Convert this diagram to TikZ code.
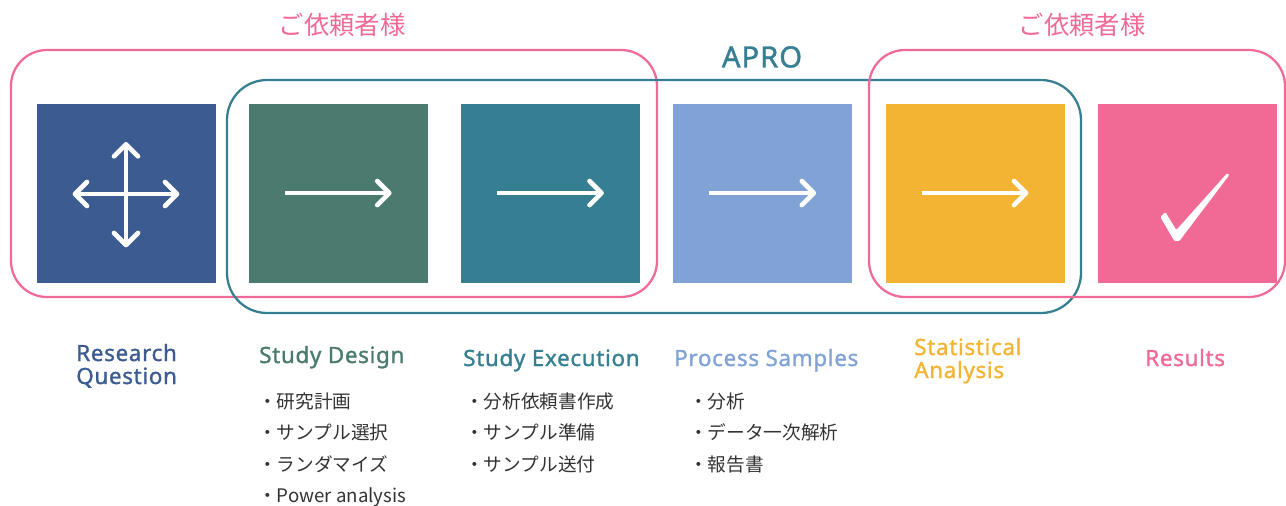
\documentclass[tikz,border=0pt]{standalone}
\usepackage{fontspec}
\setmainfont{Noto Sans CJK JP}
\newfontfamily\lblfont{Noto Sans}[FakeBold=1.2,LetterSpace=3]
\usetikzlibrary{arrows.meta,positioning}
\definecolor{rqblue}{HTML}{3C5B91}
\definecolor{designgreen}{HTML}{4B7A6E}
\definecolor{execteal}{HTML}{367E92}
\definecolor{procblue}{HTML}{80A2D4}
\definecolor{statorange}{HTML}{F4B433}
\definecolor{respink}{HTML}{F06A95}
\definecolor{itemgray}{HTML}{333333}

\begin{document}
\begin{tikzpicture}[x=0.75pt,y=-0.75pt,node distance=159.2pt,on grid,
    >={Straight Barb[length=9pt,width=18pt,round]},
    stepbox/.style={minimum size=134.25pt,inner sep=0pt,outer sep=0pt},
    icon/.style={white,line width=3.5pt},
    clientbox/.style={draw=respink,line width=1.7pt,rounded corners=27pt},
    aprobox/.style={draw=execteal,line width=1.7pt,rounded corners=30pt},
    title/.style={font=\fontsize{19}{22}\selectfont},
    lbl/.style={anchor=base west,inner sep=0pt,font=\lblfont\fontsize{16.8}{18}\selectfont},
    item/.style={anchor=base west,inner sep=0pt,text=itemgray,font=\fontsize{14}{16}\selectfont}]
    \useasboundingbox (0,0) rectangle (1286,506);

    % groups
    \draw[clientbox] (11,50) rectangle (657,297);
    \draw[aprobox]   (227,80) rectangle (1081,313);
    \draw[clientbox] (869,50) rectangle (1285,297);
    \node[title,text=respink]  (client1) at (342,25)   {ご依頼者様};
    \node[title,text=respink]  (client2) at (1082,25)  {ご依頼者様};
    \node[font=\lblfont\fontsize{22}{26}\selectfont,text=execteal] (apro) at (762,57) {APRO};

    % steps
    \node[stepbox,fill=rqblue]                        (rq)     at (126,194) {};
    \node[stepbox,fill=designgreen,right=of rq]       (design) {};
    \node[stepbox,fill=execteal,right=of design]      (exec)   {};
    \node[stepbox,fill=procblue,right=of exec]        (proc)   {};
    \node[stepbox,fill=statorange,right=of proc]      (stat)   {};
    \node[stepbox,fill=respink,right=of stat]         (res)    {};

    % icons
    \draw[icon,<->] ([xshift=-40pt]rq.center) -- ([xshift=40pt]rq.center);
    \draw[icon,<->] ([yshift=39pt]rq.center) -- ([yshift=-40pt]rq.center);
    \foreach \s in {design,exec,proc,stat}
        \draw[icon,->] ([xshift=-40pt,yshift=0.7pt]\s.center) -- ([xshift=40pt,yshift=0.7pt]\s.center);
    \fill[white,shift={(res.center)},rounded corners=0.8pt]
        (-27,23) -- (-22,18) -- (-11,36) -- (40,-21) -- (42,-19) -- (-8,47) -- (-13,47) -- cycle;

    % labels
    \node[lbl,text=rqblue]      (rqlbl)     at (76,361)  {Research};
    \node[lbl,text=rqblue]      (rqlbl2)    at (76,384)  {Question};
    \node[lbl,text=designgreen] (designlbl) at (259,363) {Study Design};
    \node[lbl,text=execteal]    (execlbl)   at (463,366) {Study Execution};
    \node[lbl,text=procblue]    (proclbl)   at (674,366) {Process Samples};
    \node[lbl,text=statorange]  (statlbl)   at (914,355) {Statistical};
    \node[lbl,text=statorange]  (statlbl2)  at (914,378) {Analysis};
    \node[lbl,text=respink]     (reslbl)    at (1145,366) {Results};

    % tasks
    \foreach \t [count=\n from 0] in {・研究計画,・サンプル選択,・ランダマイズ,・Power analysis}
        \node[item] (design-\n) at (258,408+31.5*\n) {\t};
    \foreach \t [count=\n from 0] in {・分析依頼書作成,・サンプル準備,・サンプル送付}
        \node[item] (exec-\n) at (465,408+31.5*\n) {\t};
    \foreach \t [count=\n from 0] in {・分析,・データ一次解析,・報告書}
        \node[item] (proc-\n) at (689,408+31.5*\n) {\t};
\end{tikzpicture}
\end{document}
